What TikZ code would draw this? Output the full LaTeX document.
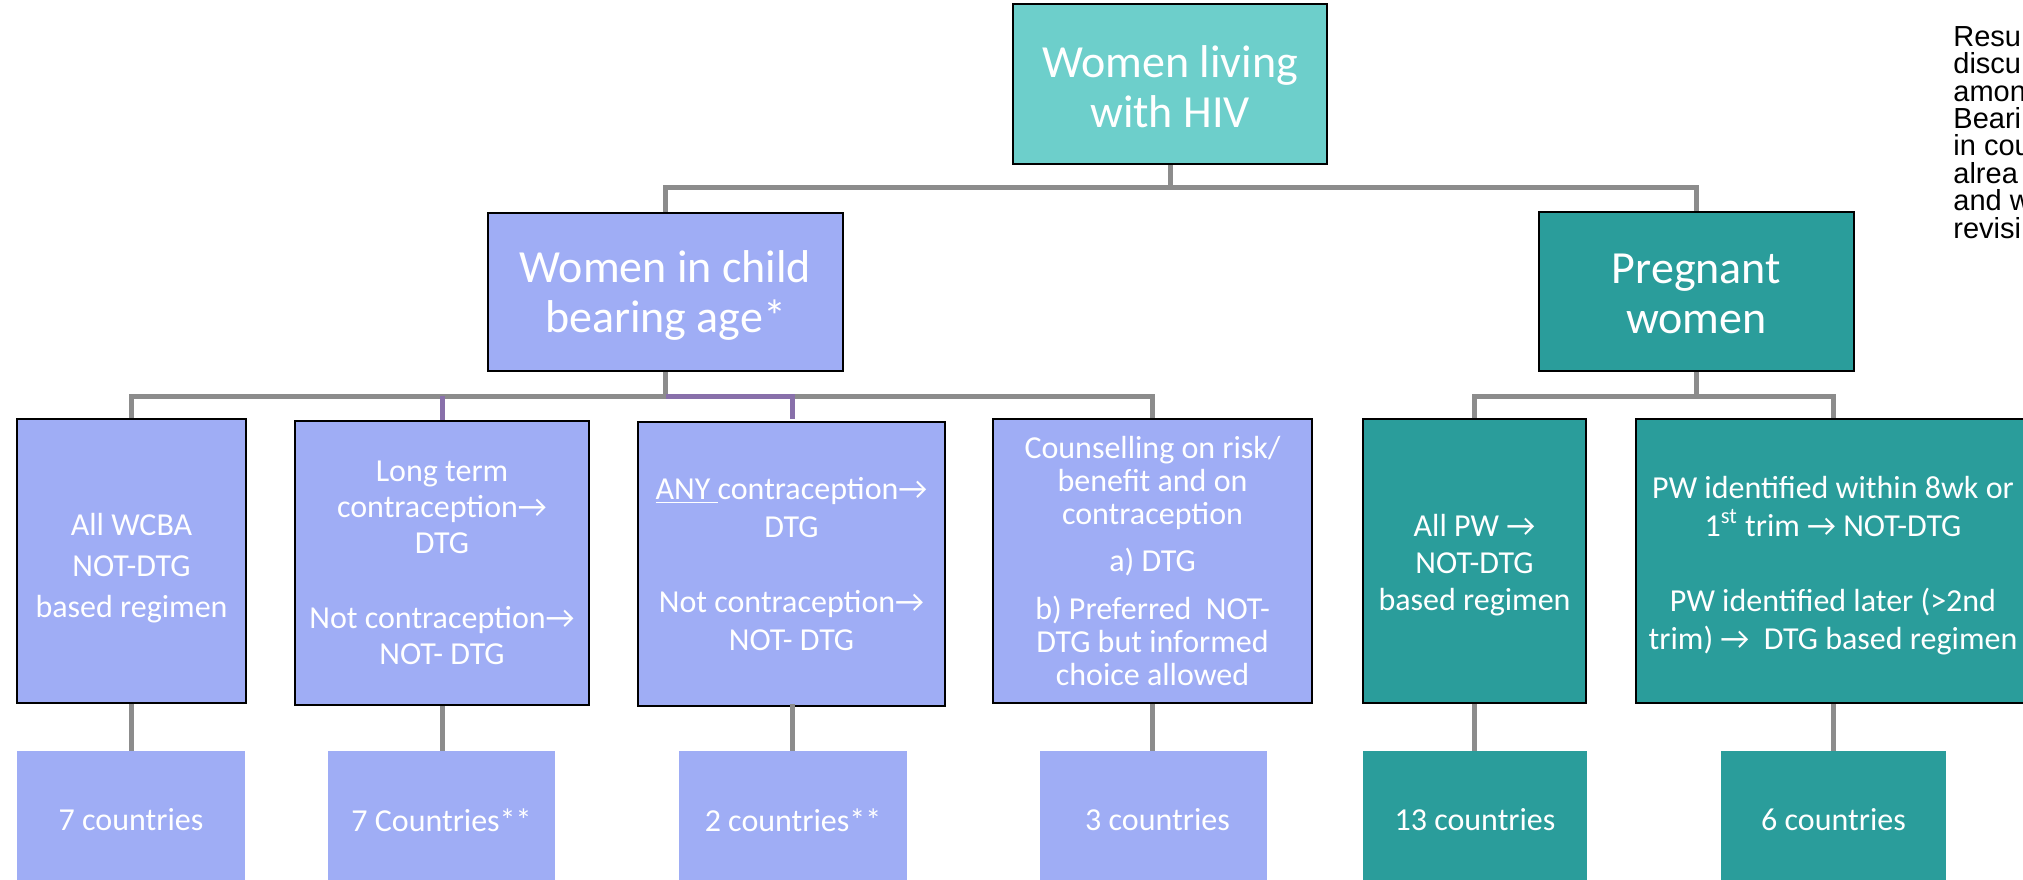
\documentclass[tikz,border=0pt]{standalone}
\usepackage{fontspec}
\setmainfont{Carlito}
\newfontfamily\arialfont{Liberation Sans}
\definecolor{lblue}{RGB}{159,173,245}
\definecolor{dteal}{RGB}{42,157,155}
\definecolor{lteal}{RGB}{109,207,203}
\definecolor{cgray}{RGB}{140,140,140}
\definecolor{cpurp}{RGB}{136,112,170}
\newcommand{\ra}{→}
\newcommand{\dn}[1]{\rule{0pt}{\dimexpr\fontcharht\font`\l+#1\relax}}
\begin{document}
\begin{tikzpicture}[x=0.5pt,y=-0.5pt,
  boxbase/.style={inner sep=0pt, align=center, text=white},
  bigbox/.style={boxbase, draw=black, line width=1pt, font=\fontsize{23}{25}\selectfont},
  midbox/.style={boxbase, draw=black, line width=1pt, minimum height=142pt},
  cntbox/.style={boxbase, minimum height=69pt, font=\fontsize{16}{19}\selectfont},
  conn/.style={draw=cgray, line width=2.5pt},
  connp/.style={draw=cpurp, line width=2.5pt},
  sidetext/.style={inner sep=0pt, anchor=north west, align=left, text=black}]
\useasboundingbox (0,0) rectangle (2023,879);
\clip (0,0) rectangle (2023,879);

% level 1
\node[bigbox, fill=lteal, minimum width=157pt, minimum height=80pt] (top) at (1170,84)
  {\dn{3pt}Women living\\with HIV};
% level 2
\node[bigbox, fill=lblue, minimum width=177.5pt, minimum height=79pt] (wcba) at (665.5,292)
  {\dn{3pt}Women in child\\bearing age*};
\node[bigbox, fill=dteal, minimum width=157.5pt, minimum height=79.5pt] (preg) at (1696.5,291.5)
  {\dn{1pt}Pregnant\\women};

% level 3
\node[midbox, fill=lblue, minimum width=114.5pt, font=\fontsize{16}{20.5}\selectfont] (b1) at (131.5,561)
  {\dn{7pt}All WCBA\\NOT-DTG\\based regimen};
\node[midbox, fill=lblue, minimum width=147pt, font=\fontsize{16}{18}\selectfont] (b2) at (442,563)
  {Long term\\contraception\ra\\DTG\\[19.5pt]Not contraception\ra\\NOT- DTG};
\node[midbox, fill=lblue, minimum width=153.5pt, font=\fontsize{16}{18.75}\selectfont] (b3) at (791.5,564)
  {\underline{ANY\ }contraception\ra\\DTG\\[19pt]Not contraception\ra\\NOT- DTG};
\node[midbox, fill=lblue, minimum width=159.5pt, font=\fontsize{16}{16.5}\selectfont] (b4) at (1152.5,561)
  {Counselling on risk/\\benefit and on\\contraception\\[7pt]a) DTG\\[7.5pt]b) Preferred\ \ NOT-\\DTG but informed\\choice allowed};
\node[midbox, fill=dteal, minimum width=111.5pt, font=\fontsize{16}{18.5}\selectfont] (b5) at (1474.5,561)
  {\dn{4.5pt}All PW \ra\\NOT-DTG\\based regimen};
\node[midbox, fill=dteal, minimum width=197pt, font=\fontsize{16}{18.75}\selectfont] (b6) at (1833,561)
  {\dn{4.5pt}PW identified within 8wk or\\1\textsuperscript{st} trim \ra\ NOT-DTG\\[19pt]PW identified later (>2nd\\trim) \ra\ \ DTG based regimen};

% level 4
\node[cntbox, fill=lblue, minimum width=114pt] (c1) at (131,820) {7 countries};
\node[cntbox, fill=lblue, minimum width=113.5pt] (c2) at (441.5,820) {7 Countries**};
\node[cntbox, fill=lblue, minimum width=114pt] (c3) at (793,820) {2 countries**};
\node[cntbox, fill=lblue, minimum width=113.5pt] (c4) at (1153.5,820) {\hspace*{4pt}3 countries};
\node[cntbox, fill=dteal, minimum width=112pt] (c5) at (1475,820) {13 countries};
\node[cntbox, fill=dteal, minimum width=112.5pt] (c6) at (1833.5,820) {6 countries};

% connectors level 1 -> 2
\coordinate (j1) at (1170,187);
\draw[conn] (top.south) -- (j1);
\draw[conn] (wcba.north) |- (j1) -| (preg.north);
% connectors level 2 -> 3
\coordinate (j2) at (665.5,396);
\draw[conn] (wcba.south) -- (j2);
\draw[conn] (b1.north) |- (j2) -| (b4.north);
\draw[connp] (b2.north -| 442,0) -- (442,396);
\draw[connp] (j2) -| (792,419);
\coordinate (j3) at (1696.5,396);
\draw[conn] (preg.south) -- (j3);
\draw[conn] (b5.north) |- (j3) -| (b6.north);
% connectors level 3 -> 4
\draw[conn] (b1.south) -- (b1.south |- c1.north);
\draw[conn] (b2.south) -- (b2.south |- c2.north);
\draw[conn] (792,704) -- (792,751);
\draw[conn] (b4.south) -- (b4.south |- c4.north);
\draw[conn] (b5.south) -- (b5.south |- c5.north);
\draw[conn] (b6.south) -- (b6.south |- c6.north);

% side text (cut off at the right edge)
\node[sidetext, font={\arialfont\fontsize{14.5}{13.7}\selectfont}] (side) at (1953,26)
  {Resu\\discu\\amon\\Beari\\in cou\\alrea\\and w\\revisi};
\end{tikzpicture}
\end{document}
